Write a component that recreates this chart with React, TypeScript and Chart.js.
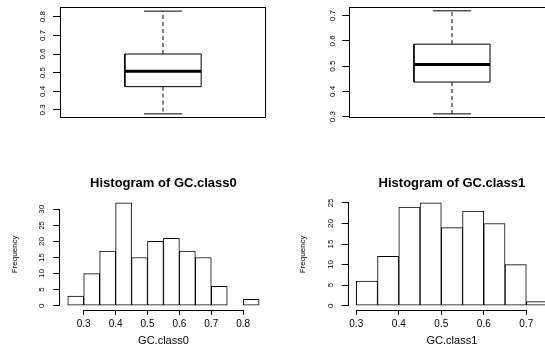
import React, { useEffect, useRef } from "react";
import { Chart, registerables } from "chart.js";

Chart.register(...registerables);

// ---------- data ----------
// boxplot statistics: [lower whisker, Q1, median, Q3, upper whisker]
const boxStats0 = [0.279, 0.425, 0.507, 0.6, 0.83];
const boxStats1 = [0.311, 0.437, 0.506, 0.587, 0.719];
const boxTicks0 = [0.3, 0.4, 0.5, 0.6, 0.7, 0.8];
const boxTicks1 = [0.3, 0.4, 0.5, 0.6, 0.7];

// histograms
const histBreaks0 = [0.25, 0.3, 0.35, 0.4, 0.45, 0.5, 0.55, 0.6, 0.65, 0.7, 0.75, 0.8, 0.85];
const histCounts0 = [3, 10, 17, 32, 15, 20, 21, 17, 15, 6, 0, 2];
const histBreaks1 = [0.3, 0.35, 0.4, 0.45, 0.5, 0.55, 0.6, 0.65, 0.7, 0.75];
const histCounts1 = [6, 12, 24, 25, 19, 23, 20, 10, 1];
const histXTicks0 = [0.3, 0.4, 0.5, 0.6, 0.7, 0.8];
const histXTicks1 = [0.3, 0.4, 0.5, 0.6, 0.7];
const histYTicks0 = [0, 5, 10, 15, 20, 25, 30];
const histYTicks1 = [0, 5, 10, 15, 20, 25];
const histNames = ["GC.class0", "GC.class1"];

const FONT = "'Liberation Sans', Arial, Helvetica, sans-serif";
Chart.defaults.font.family = FONT;

// ---------- helpers ----------
const ext = (lo: number, hi: number) => {
  const d = (hi - lo) * 0.04;
  return [lo - d, hi + d];
};

function makeRPlugin(mode: "frame" | "axes") {
  return {
    id: "rStyle",
    afterDraw(chart: any) {
      const { ctx, chartArea } = chart;
      ctx.save();
      ctx.strokeStyle = "#000";
      ctx.lineWidth = 1;
      if (mode === "frame") {
        const l = Math.round(chartArea.left) + 0.5;
        const t = Math.round(chartArea.top) + 0.5;
        const r = Math.round(chartArea.right) - 0.5;
        const b = Math.round(chartArea.bottom) - 0.5;
        ctx.strokeRect(l, t, r - l, b - t);
      } else {
        const xs = chart.scales.x;
        const ys = chart.scales.y;
        const xt = xs.ticks;
        const yt = ys.ticks;
        ctx.beginPath();
        const yy = Math.round(chartArea.bottom) + 0.5;
        ctx.moveTo(xs.getPixelForValue(xt[0].value), yy);
        ctx.lineTo(xs.getPixelForValue(xt[xt.length - 1].value), yy);
        const xx = Math.round(chartArea.left) - 0.5;
        ctx.moveTo(xx, ys.getPixelForValue(yt[0].value));
        ctx.lineTo(xx, ys.getPixelForValue(yt[yt.length - 1].value));
        ctx.stroke();
      }
      ctx.restore();
    },
  };
}

function yScale(
  min: number,
  max: number,
  ticks: number[],
  width: number,
  labelPad: number,
  title?: { text: string; pad: number }
) {
  return {
    type: "linear",
    position: "left",
    min,
    max,
    afterBuildTicks: (s: any) => {
      s.ticks = ticks.map((v) => ({ value: v }));
    },
    afterFit: (s: any) => {
      s.width = width;
      s.paddingTop = 0;
      s.paddingBottom = 0;
    },
    grid: { display: true, drawOnChartArea: false, drawTicks: true, tickLength: 7, color: "#000", lineWidth: 1 },
    border: { display: false },
    ticks: {
      minRotation: 90,
      maxRotation: 90,
      crossAlign: "center",
      padding: labelPad,
      autoSkip: false,
      color: "#000",
      font: { family: FONT, size: 8 },
      callback: (v: any) => String(v),
    },
    title: title
      ? { display: true, text: title.text, color: "#000", font: { family: FONT, size: 8 }, padding: { top: title.pad, bottom: 0 } }
      : { display: false },
  };
}

function boxplotConfig(stats: number[], ticks: number[], lay: any) {
  const [mn, q1, md, q3, mx] = stats;
  const [yMin, yMax] = ext(mn, mx);
  const c = 1;
  const hw = 0.2;
  const cw = 0.1;
  const base = {
    showLine: true,
    pointRadius: 0,
    pointHoverRadius: 0,
    borderColor: "#000",
    backgroundColor: "transparent",
    fill: false,
    tension: 0,
    borderWidth: 1,
  };
  return {
    type: "scatter",
    data: {
      datasets: [
        { ...base, data: [{ x: c - hw, y: q1 }, { x: c + hw, y: q1 }, { x: c + hw, y: q3 }, { x: c - hw, y: q3 }, { x: c - hw, y: q1 }] },
        { ...base, borderWidth: 3, borderCapStyle: "butt", data: [{ x: c - hw, y: md }, { x: c + hw, y: md }] },
        { ...base, borderDash: [4, 3], data: [{ x: c, y: q3 }, { x: c, y: mx }] },
        { ...base, borderDash: [4, 3], data: [{ x: c, y: q1 }, { x: c, y: mn }] },
        { ...base, data: [{ x: c - cw, y: mx }, { x: c + cw, y: mx }] },
        { ...base, data: [{ x: c - cw, y: mn }, { x: c + cw, y: mn }] },
      ],
    },
    options: {
      responsive: false,
      animation: false,
      events: [],
      layout: { padding: { top: lay.top, bottom: lay.bottom, left: 0, right: lay.right } },
      plugins: { legend: { display: false }, tooltip: { enabled: false }, title: { display: false } },
      scales: {
        x: { type: "linear", display: false, min: 0.46, max: 1.54 },
        y: yScale(yMin, yMax, ticks, lay.yWidth, lay.labelPad),
      },
    },
    plugins: [makeRPlugin("frame")],
  };
}

function histConfig(breaks: number[], counts: number[], xTicks: number[], yTicks: number[], name: string, lay: any) {
  const [xMin, xMax] = ext(breaks[0], breaks[breaks.length - 1]);
  const [yMin, yMax] = ext(0, Math.max(...counts));
  const data = counts.map((c, i) => ({ x: (breaks[i] + breaks[i + 1]) / 2, y: c }));
  return {
    type: "bar",
    data: {
      datasets: [
        {
          data,
          backgroundColor: "#fff",
          borderColor: "#000",
          borderWidth: 1,
          borderSkipped: false,
          barPercentage: 1,
          categoryPercentage: 1,
        },
      ],
    },
    options: {
      responsive: false,
      animation: false,
      events: [],
      layout: { padding: { top: 0, bottom: 0, left: 0, right: lay.right } },
      plugins: {
        legend: { display: false },
        tooltip: { enabled: false },
        title: {
          display: true,
          text: "Histogram of " + name,
          fullSize: false,
          color: "#000",
          font: { family: FONT, size: 13, weight: "bold" },
          padding: { top: 1.5, bottom: lay.titleBottom },
        },
      },
      scales: {
        x: {
          type: "linear",
          position: "bottom",
          min: xMin,
          max: xMax,
          offset: false,
          afterBuildTicks: (s: any) => {
            s.ticks = xTicks.map((v) => ({ value: v }));
          },
          afterFit: (s: any) => {
            s.height = lay.xHeight;
            s.paddingLeft = 0;
            s.paddingRight = 0;
          },
          grid: { display: true, offset: false, drawOnChartArea: false, drawTicks: true, tickLength: 5, color: "#000", lineWidth: 1 },
          border: { display: false },
          ticks: {
            autoSkip: false,
            maxRotation: 0,
            minRotation: 0,
            padding: 3.7,
            color: "#000",
            font: { family: FONT, size: 10 },
            callback: (v: any) => String(v),
          },
          title: { display: true, text: name, color: "#000", font: { family: FONT, size: 11 }, padding: { top: 0, bottom: 0 } },
        },
        y: yScale(yMin, yMax, yTicks, lay.yWidth, lay.labelPad, { text: "Frequency", pad: lay.yTitlePad }),
      },
    },
    plugins: [makeRPlugin("axes")],
  };
}

function Panel({ make, left, top, width, height }: any) {
  const ref = useRef<HTMLCanvasElement>(null);
  useEffect(() => {
    const chart = new Chart(ref.current as HTMLCanvasElement, make());
    return () => chart.destroy();
  }, []);
  return (
    <canvas
      ref={ref}
      width={width}
      height={height}
      style={{ position: "absolute", left, top, width, height, display: "block" }}
    />
  );
}

export default function App() {
  return (
    <div
      style={{
        position: "fixed",
        left: 0,
        top: 0,
        width: 545,
        height: 348,
        overflow: "hidden",
        background: "#fff",
      }}
    >
      <Panel
        left={0}
        top={0}
        width={272}
        height={174}
        make={() => boxplotConfig(boxStats0, boxTicks0, { top: 7, bottom: 56, right: 6, yWidth: 60, labelPad: 5 })}
      />
      <Panel
        left={272}
        top={0}
        width={290}
        height={174}
        make={() => boxplotConfig(boxStats1, boxTicks1, { top: 6.7, bottom: 56, right: 7.3, yWidth: 77.3, labelPad: 4.4 })}
      />
      <Panel
        left={0}
        top={174}
        width={272}
        height={174}
        make={() =>
          histConfig(histBreaks0, histCounts0, histXTicks0, histYTicks0, histNames[0], {
            right: 5.2,
            yWidth: 60.1,
            xHeight: 38.2,
            labelPad: 7,
            yTitlePad: 10.2,
            titleBottom: 7.7,
          })
        }
      />
      <Panel
        left={272}
        top={174}
        width={290}
        height={174}
        make={() =>
          histConfig(histBreaks1, histCounts1, histXTicks1, histYTicks1, histNames[1], {
            right: 6.8,
            yWidth: 76.65,
            xHeight: 38.2,
            labelPad: 6.2,
            yTitlePad: 25.9,
            titleBottom: 7.7,
          })
        }
      />
    </div>
  );
}
